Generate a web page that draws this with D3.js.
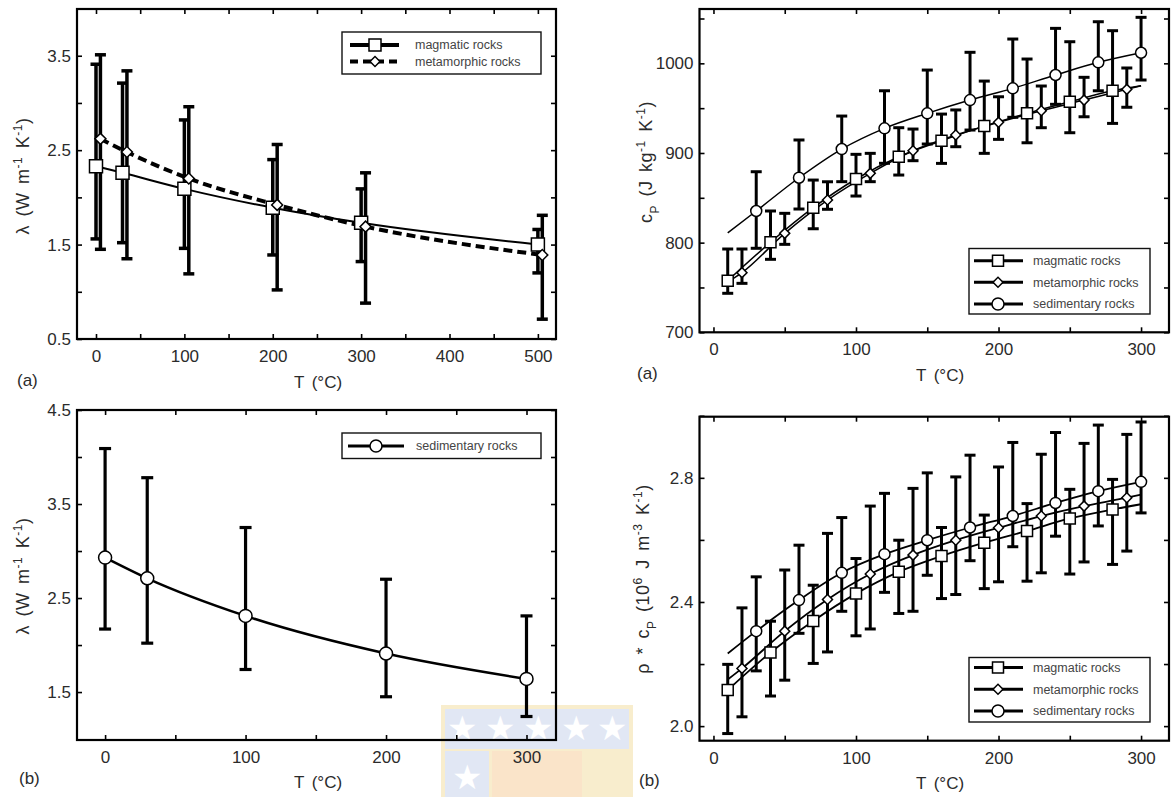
<!DOCTYPE html>
<html><head><meta charset="utf-8">
<script src="https://cdn.jsdelivr.net/npm/d3@7"></script>
<style>
body{margin:0;background:#fff}
text{font-family:"Liberation Sans",Arial,Helvetica,sans-serif}
</style>
</head><body>
<svg id="c" width="1175" height="797"></svg>
<script>
// ---------- Panel (a) left: thermal conductivity, magmatic & metamorphic ----------
const lamT_mag   = [0, 30, 100, 200, 300, 500];
const lam_mag    = [2.33, 2.26, 2.09, 1.89, 1.73, 1.50];
const lam_mag_hi = [3.41, 3.21, 2.82, 2.40, 2.09, 1.66];
const lam_mag_lo = [1.56, 1.52, 1.46, 1.39, 1.32, 1.20];
const lamT_met   = [5, 35, 105, 205, 305, 505];
const lam_met    = [2.62, 2.48, 2.20, 1.92, 1.69, 1.39];
const lam_met_hi = [3.51, 3.34, 2.96, 2.56, 2.26, 1.81];
const lam_met_lo = [1.45, 1.35, 1.19, 1.02, 0.88, 0.71];
// ---------- Panel (b) left: thermal conductivity, sedimentary ----------
const lamT_sed   = [0, 30, 100, 200, 300];
const lam_sed    = [2.93, 2.71, 2.31, 1.91, 1.64];
const lam_sed_hi = [4.09, 3.78, 3.25, 2.70, 2.31];
const lam_sed_lo = [2.17, 2.02, 1.74, 1.45, 1.24];
// ---------- Panel (a) right: specific heat capacity ----------
const cpT_mag   = [10, 40, 70, 100, 130, 160, 190, 220, 250, 280];
const cp_mag    = [757.6, 800.4, 839, 871, 895.8, 913.7, 930, 944.2, 957.2, 969.4];
const cp_mag_hi = [792.9, 835.3, 869.8, 898.5, 928.2, 943.4, 980.2, 1004.8, 1024.1, 1036.4];
const cp_mag_lo = [743.5, 781.4, 815.5, 852, 875.4, 888.4, 899.6, 911.4, 922.6, 933];
const cpT_met   = [20, 50, 80, 110, 140, 170, 200, 230, 260, 290];
const cp_met    = [766.5, 810.4, 847.5, 877.3, 902.5, 920, 934.2, 947.1, 959, 971];
const cp_met_hi = [792.9, 832.7, 867.9, 899.6, 926.7, 948, 962.7, 974.7, 984.4, 994.8];
const cp_met_lo = [754.6, 798.1, 837.2, 868, 891.4, 907, 915.2, 928.2, 940.4, 951];
const cpT_sed   = [30, 60, 90, 120, 150, 180, 210, 240, 270, 300];
const cp_sed    = [835.3, 872.4, 904.4, 927.5, 944.2, 959, 972.1, 987, 1001.1, 1011.8];
const cp_sed_hi = [879.1, 914.5, 941.2, 969.4, 992.5, 1012.3, 1027.1, 1039, 1046.4, 1051.3];
const cp_sed_lo = [793.7, 837.5, 868, 888.5, 910, 925.6, 939.8, 954.3, 969.4, 981.4];
// fitted curves
const cpCurveT_mag = [10, 40, 70, 100, 130, 160, 190, 220, 250, 280, 300];
const cpCurve_mag  = [757.6, 800.4, 839, 871, 895.8, 913.7, 930, 944.2, 957.2, 969.4, 975];
const cpCurveT_met = [10, 20, 50, 80, 110, 140, 170, 200, 230, 260, 290, 300];
const cpCurve_met  = [756, 766.5, 810.4, 847.5, 877.3, 902.5, 920, 934.2, 947.1, 959, 971, 975];
const cpCurveT_sed = [10, 30, 60, 90, 120, 150, 180, 210, 240, 270, 300];
const cpCurve_sed  = [811, 835.3, 872.4, 904.4, 927.5, 944.2, 959, 972.1, 987, 1001.1, 1011.8];
// ---------- Panel (b) right: volumetric heat capacity ----------
const rcT_mag   = [10, 40, 70, 100, 130, 160, 190, 220, 250, 280];
const rc_mag    = [2.116, 2.237, 2.339, 2.427, 2.497, 2.548, 2.591, 2.629, 2.669, 2.698];
const rc_mag_hi = [2.199, 2.338, 2.454, 2.540, 2.599, 2.640, 2.680, 2.717, 2.763, 2.795];
const rc_mag_lo = [1.976, 2.097, 2.202, 2.291, 2.363, 2.411, 2.443, 2.467, 2.490, 2.521];
const rcT_met   = [20, 50, 80, 110, 140, 170, 200, 230, 260, 290];
const rc_met    = [2.186, 2.306, 2.408, 2.490, 2.551, 2.599, 2.639, 2.677, 2.709, 2.736];
const rc_met_hi = [2.381, 2.503, 2.621, 2.709, 2.766, 2.803, 2.835, 2.876, 2.911, 2.940];
const rc_met_lo = [2.030, 2.148, 2.239, 2.313, 2.370, 2.424, 2.465, 2.494, 2.529, 2.564];
const rcT_sed   = [30, 60, 90, 120, 150, 180, 210, 240, 270, 300];
const rc_sed    = [2.306, 2.406, 2.494, 2.554, 2.599, 2.640, 2.677, 2.719, 2.757, 2.787];
const rc_sed_hi = [2.481, 2.583, 2.672, 2.750, 2.816, 2.873, 2.914, 2.946, 2.970, 2.980];
const rc_sed_lo = [2.178, 2.299, 2.370, 2.431, 2.486, 2.533, 2.578, 2.612, 2.645, 2.687];
const rcCurveT_mag = [10, 40, 70, 100, 130, 160, 190, 220, 250, 280, 300];
const rcCurve_mag  = [2.116, 2.237, 2.339, 2.427, 2.497, 2.548, 2.591, 2.629, 2.669, 2.698, 2.715];
const rcCurveT_met = [10, 20, 50, 80, 110, 140, 170, 200, 230, 260, 290, 300];
const rcCurve_met  = [2.150, 2.186, 2.306, 2.408, 2.490, 2.551, 2.599, 2.639, 2.677, 2.709, 2.736, 2.746];
const rcCurveT_sed = [10, 30, 60, 90, 120, 150, 180, 210, 240, 270, 300];
const rcCurve_sed  = [2.234, 2.306, 2.406, 2.494, 2.554, 2.599, 2.640, 2.677, 2.719, 2.757, 2.787];

// tick values
const ticksX_A = [0, 50, 100, 150, 200, 250, 300, 350, 400, 450, 500];
const labelsX_A = [0, 100, 200, 300, 400, 500];
const ticksY_A = [0.5, 1, 1.5, 2, 2.5, 3, 3.5, 4];
const labelsY_A = [0.5, 1.5, 2.5, 3.5];
const ticksX_B = [0, 50, 100, 150, 200, 250, 300];
const labelsX_B = [0, 100, 200, 300];
const ticksY_C = [1.5, 2, 2.5, 3, 3.5, 4, 4.5];
const labelsY_C = [1.5, 2.5, 3.5, 4.5];
const ticksY_cp = [700, 750, 800, 850, 900, 950, 1000, 1050];
const labelsY_cp = [700, 800, 900, 1000];
const ticksY_rc = [2.0, 2.2, 2.4, 2.6, 2.8, 3.0];
const labelsY_rc = [2.0, 2.4, 2.8];

const svg = d3.select("#c");
const TXT = "#2b2b2b";

// faint watermark logo
(function(){
  const w = svg.append("g").attr("opacity", 0.55);
  w.append("rect").attr("x",441).attr("y",705).attr("width",192).attr("height",92).attr("fill","#f3dfa6");
  w.append("rect").attr("x",445).attr("y",709).attr("width",184).attr("height",40).attr("fill","#c9d4ec");
  w.append("rect").attr("x",445).attr("y",751).attr("width",44).attr("height",46).attr("fill","#c9d4ec");
  w.append("rect").attr("x",492).attr("y",751).attr("width",90).attr("height",46).attr("fill","#f6cf9e");
  [462,500,538,576,612].forEach(cx => w.append("text").attr("x",cx).attr("y",740).attr("text-anchor","middle").attr("font-size",34).attr("fill","#fff").text("★"));
  w.append("text").attr("x",467).attr("y",789).attr("text-anchor","middle").attr("font-size",34).attr("fill","#fff").text("★");
})();

function marker(shape, size) {
  if (shape === "square") return d3.symbol().type(d3.symbolSquare).size(size * size)();
  if (shape === "diamond") return d3.symbol().type(d3.symbolSquare).size(size * size / 2)();
  return d3.symbol().type(d3.symbolCircle).size(Math.PI * size * size / 4)();
}

function supText(t, parts) {
  parts.forEach(p => {
    const s = t.append("tspan").text(p.t);
    if (p.sup) s.attr("font-size", "12px").attr("baseline-shift", "super");
    if (p.sub) s.attr("font-size", "12px").attr("baseline-shift", "sub");
  });
}

function panel(o) {
  const g = svg.append("g");
  const x = d3.scaleLinear().domain(o.xDomain).range([o.left, o.right]);
  const y = d3.scaleLinear().domain(o.yDomain).range([o.bottom, o.top]);

  const fmtX = d => o.xLabels.includes(d) ? d3.format("d")(d) : "";
  const fmtY = d => o.yLabels.some(v => Math.abs(v - d) < 1e-9) ? d3.format(o.yFmt)(d) : "";

  const axes = [
    g.append("g").attr("transform", `translate(0,${o.bottom})`).call(d3.axisBottom(x).tickValues(o.xTicks).tickSizeInner(-5).tickSizeOuter(0).tickPadding(11).tickFormat(fmtX)),
    g.append("g").attr("transform", `translate(0,${o.top})`).call(d3.axisTop(x).tickValues(o.xTicks).tickSizeInner(-5).tickSizeOuter(0).tickFormat("")),
    g.append("g").attr("transform", `translate(${o.left},0)`).call(d3.axisLeft(y).tickValues(o.yTicks).tickSizeInner(-5).tickSizeOuter(0).tickPadding(6).tickFormat(fmtY)),
    g.append("g").attr("transform", `translate(${o.right},0)`).call(d3.axisRight(y).tickValues(o.yTicks).tickSizeInner(-5).tickSizeOuter(0).tickFormat(""))
  ];
  axes.forEach(a => {
    a.select(".domain").remove();
    a.selectAll(".tick line").attr("stroke", "#000").attr("stroke-width", 1.6);
    a.selectAll(".tick text").attr("font-size", "17px").attr("fill", TXT).attr("font-family", '"Liberation Sans",Arial,sans-serif');
  });

  // series
  o.series.forEach(s => {
    const pts = s.t.map((t, i) => ({t, v: s.v[i], hi: s.hi[i], lo: s.lo[i]}));
    const cpts = (s.ct || s.t).map((t, i) => [t, (s.cv || s.v)[i]]);
    g.append("path").datum(cpts)
      .attr("d", d3.line().x(d => x(d[0])).y(d => y(d[1])).curve(d3.curveMonotoneX))
      .attr("fill", "none").attr("stroke", "#000").attr("stroke-width", s.lw)
      .attr("stroke-dasharray", s.dash || null);
    const eb = g.append("g").attr("stroke", "#000").attr("stroke-width", o.ebw);
    pts.forEach(p => {
      eb.append("line").attr("x1", x(p.t)).attr("x2", x(p.t)).attr("y1", y(p.lo)).attr("y2", y(p.hi));
      eb.append("line").attr("x1", x(p.t) - o.cap / 2).attr("x2", x(p.t) + o.cap / 2).attr("y1", y(p.lo)).attr("y2", y(p.lo));
      eb.append("line").attr("x1", x(p.t) - o.cap / 2).attr("x2", x(p.t) + o.cap / 2).attr("y1", y(p.hi)).attr("y2", y(p.hi));
    });
  });
  o.series.forEach(s => {
    g.append("g").selectAll("path").data(s.t.map((t, i) => [t, s.v[i]])).join("path")
      .attr("d", marker(s.shape, s.ms))
      .attr("transform", d => `translate(${x(d[0])},${y(d[1])})${s.shape === "diamond" ? " rotate(45)" : ""}`)
      .attr("fill", "#fff").attr("stroke", "#000").attr("stroke-width", 1.5);
  });

  // frame
  g.append("rect").attr("x", o.left).attr("y", o.top).attr("width", o.right - o.left).attr("height", o.bottom - o.top)
    .attr("fill", "none").attr("stroke", "#000").attr("stroke-width", 2.2);

  // legend
  const L = o.legend;
  g.append("rect").attr("x", L.x0).attr("y", L.y0).attr("width", L.x1 - L.x0).attr("height", L.y1 - L.y0)
    .attr("fill", "#fff").attr("stroke", "#111").attr("stroke-width", 1.4);
  L.items.forEach((it, i) => {
    const yy = L.rows[i];
    g.append("line").attr("x1", L.lx0).attr("x2", L.lx1).attr("y1", yy).attr("y2", yy)
      .attr("stroke", "#000").attr("stroke-width", it.lw).attr("stroke-dasharray", it.dash || null);
    g.append("path").attr("d", marker(it.shape, it.ms))
      .attr("transform", `translate(${L.mx},${yy})${it.shape === "diamond" ? " rotate(45)" : ""}`)
      .attr("fill", "#fff").attr("stroke", "#000").attr("stroke-width", 1.5);
    g.append("text").attr("x", L.tx).attr("y", yy).attr("dy", "0.35em").attr("font-size", "12.5px").attr("fill", "#444").text(it.label);
  });

  // labels
  g.append("text").attr("x", o.tag[0]).attr("y", o.tag[1]).attr("font-size", "17px").attr("fill", TXT).text(o.tagText);
  g.append("text").attr("x", o.xl[0]).attr("y", o.xl[1]).attr("text-anchor", "middle").attr("font-size", "17px").attr("fill", TXT)
    .attr("word-spacing", "3px").text("T (°C)");
  const yl = g.append("text").attr("transform", `translate(${o.yl[0]},${o.yl[1]}) rotate(-90)`)
    .attr("text-anchor", "middle").attr("dy", "0.35em").attr("font-size", "18px").attr("fill", TXT)
    .attr("word-spacing", "3px").attr("letter-spacing", "0.5px");
  supText(yl, o.ylParts);
}

// Panel top-left
panel({
  left: 77, right: 556, top: 9, bottom: 339,
  xDomain: [-21.5, 520.5], yDomain: [0.5, 3.995],
  xTicks: ticksX_A, xLabels: labelsX_A, yTicks: ticksY_A, yLabels: labelsY_A, yFmt: ".1f",
  ebw: 3.5, cap: 11,
  series: [
    {t: lamT_mag, v: lam_mag, hi: lam_mag_hi, lo: lam_mag_lo, shape: "square", ms: 13, lw: 2},
    {t: lamT_met, v: lam_met, hi: lam_met_hi, lo: lam_met_lo, shape: "diamond", ms: 11, lw: 4, dash: "9,5"}
  ],
  legend: {x0: 342, x1: 541, y0: 32, y1: 74, rows: [45, 61.5], lx0: 350, lx1: 399, mx: 375, tx: 415,
    items: [
      {label: "magmatic rocks", shape: "square", ms: 12, lw: 4},
      {label: "metamorphic rocks", shape: "diamond", ms: 10, lw: 4, dash: "8,5"}
    ]},
  tag: [17, 386], tagText: "(a)", xl: [318, 388], yl: [23, 176],
  ylParts: [{t: "λ (W m"}, {t: "-1", sup: true}, {t: " K"}, {t: "-1", sup: true}, {t: ")"}]
});

// Panel bottom-left
panel({
  left: 77, right: 556, top: 410, bottom: 740,
  xDomain: [-20, 321], yDomain: [0.99, 4.5],
  xTicks: ticksX_B, xLabels: labelsX_B, yTicks: ticksY_C, yLabels: labelsY_C, yFmt: ".1f",
  ebw: 3.2, cap: 12,
  series: [
    {t: lamT_sed, v: lam_sed, hi: lam_sed_hi, lo: lam_sed_lo, shape: "circle", ms: 13, lw: 2.5}
  ],
  legend: {x0: 342, x1: 541, y0: 433, y1: 458.5, rows: [446], lx0: 348, lx1: 404, mx: 376, tx: 416,
    items: [{label: "sedimentary rocks", shape: "circle", ms: 12, lw: 3}]},
  tag: [19, 784], tagText: "(b)", xl: [318, 788], yl: [23, 576],
  ylParts: [{t: "λ (W m"}, {t: "-1", sup: true}, {t: " K"}, {t: "-1", sup: true}, {t: ")"}]
});

// Panel top-right
panel({
  left: 699.5, right: 1169, top: 9, bottom: 332.3,
  xDomain: [-9.8, 319.6], yDomain: [700, 1060.6],
  xTicks: ticksX_B, xLabels: labelsX_B, yTicks: ticksY_cp, yLabels: labelsY_cp, yFmt: "d",
  ebw: 3, cap: 11,
  series: [
    {t: cpT_mag, v: cp_mag, hi: cp_mag_hi, lo: cp_mag_lo, ct: cpCurveT_mag, cv: cpCurve_mag, shape: "square", ms: 11, lw: 1.5},
    {t: cpT_met, v: cp_met, hi: cp_met_hi, lo: cp_met_lo, ct: cpCurveT_met, cv: cpCurve_met, shape: "diamond", ms: 10, lw: 1.5},
    {t: cpT_sed, v: cp_sed, hi: cp_sed_hi, lo: cp_sed_lo, ct: cpCurveT_sed, cv: cpCurve_sed, shape: "circle", ms: 11, lw: 1.5}
  ],
  legend: {x0: 969, x1: 1150, y0: 248.5, y1: 314, rows: [260.7, 282.3, 304], lx0: 974, lx1: 1023, mx: 998, tx: 1033,
    items: [
      {label: "magmatic rocks", shape: "square", ms: 11, lw: 3},
      {label: "metamorphic rocks", shape: "diamond", ms: 10, lw: 3},
      {label: "sedimentary rocks", shape: "circle", ms: 12, lw: 3}
    ]},
  tag: [637, 379], tagText: "(a)", xl: [940, 381], yl: [646, 162],
  ylParts: [{t: "c"}, {t: "P", sub: true}, {t: " (J kg"}, {t: "-1", sup: true}, {t: " K"}, {t: "-1", sup: true}, {t: ")"}]
});

// Panel bottom-right
panel({
  left: 699.5, right: 1169, top: 416.7, bottom: 740.7,
  xDomain: [-9.8, 319.6], yDomain: [1.953, 2.997],
  xTicks: ticksX_B, xLabels: labelsX_B, yTicks: ticksY_rc, yLabels: labelsY_rc, yFmt: ".1f",
  ebw: 3, cap: 11,
  series: [
    {t: rcT_mag, v: rc_mag, hi: rc_mag_hi, lo: rc_mag_lo, ct: rcCurveT_mag, cv: rcCurve_mag, shape: "square", ms: 11, lw: 1.8},
    {t: rcT_met, v: rc_met, hi: rc_met_hi, lo: rc_met_lo, ct: rcCurveT_met, cv: rcCurve_met, shape: "diamond", ms: 10, lw: 1.8},
    {t: rcT_sed, v: rc_sed, hi: rc_sed_hi, lo: rc_sed_lo, ct: rcCurveT_sed, cv: rcCurve_sed, shape: "circle", ms: 11, lw: 1.8}
  ],
  legend: {x0: 969, x1: 1150, y0: 657.5, y1: 722, rows: [667.5, 689.3, 711], lx0: 974, lx1: 1023, mx: 998, tx: 1033,
    items: [
      {label: "magmatic rocks", shape: "square", ms: 11, lw: 3},
      {label: "metamorphic rocks", shape: "diamond", ms: 10, lw: 3},
      {label: "sedimentary rocks", shape: "circle", ms: 12, lw: 3}
    ]},
  tag: [639, 786], tagText: "(b)", xl: [940, 789], yl: [643, 579],
  ylParts: [{t: "ρ * c"}, {t: "P", sub: true}, {t: " (10"}, {t: "6", sup: true}, {t: " J m"}, {t: "-3", sup: true}, {t: " K"}, {t: "-1", sup: true}, {t: ")"}]
});
</script>
</body></html>
